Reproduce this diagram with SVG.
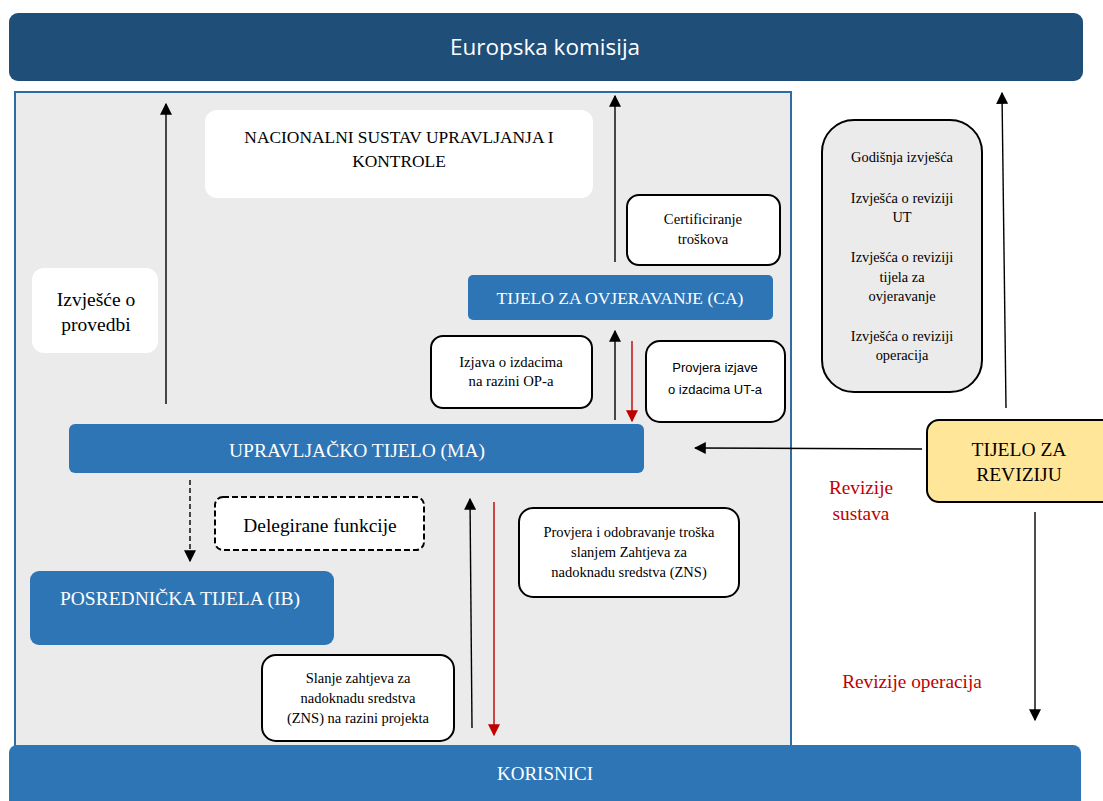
<svg xmlns="http://www.w3.org/2000/svg" width="1103" height="801" viewBox="0 0 1103 801">
<style>
.blue{fill:#2E75B6}
.wbox{fill:#fff;stroke:#000;stroke-width:2}
text.s{font-family:'Liberation Serif','DejaVu Serif',serif;fill:#000;text-anchor:middle}
text.w{fill:#fff}
text.r{fill:#C00000}
.ln{stroke:#000;stroke-width:1.4;fill:none}
.lr{stroke:#C00000;stroke-width:1.4;fill:none}
</style>
<defs>
<marker id="ab" viewBox="0 0 10 10" refX="9" refY="5" markerWidth="12" markerHeight="12" markerUnits="userSpaceOnUse" orient="auto"><path d="M0,0 L10,5 L0,10 z" fill="#000"/></marker>
<marker id="ar" viewBox="0 0 10 10" refX="9" refY="5" markerWidth="12" markerHeight="12" markerUnits="userSpaceOnUse" orient="auto"><path d="M0,0 L10,5 L0,10 z" fill="#C00000"/></marker>
</defs>
<rect width="1103" height="801" fill="#fff"/>
<g id="ek"><rect x="9" y="13" width="1074" height="68" rx="9" fill="#1F4E79"/><text x="545" y="55" font-family="'Open Sans','DejaVu Sans',sans-serif" font-size="22.5" fill="#fff" text-anchor="middle">Europska komisija</text></g>
<g id="panel"><rect x="15" y="92" width="776" height="660" fill="#EBEBEB" stroke="#2E6DA4" stroke-width="2"/></g>
<g id="nacionalni"><rect x="205" y="110" width="388" height="88" rx="12" fill="#fff"/><text class="s" font-size="17.4" x="399" y="143">NACIONALNI SUSTAV UPRAVLJANJA I</text><text class="s" font-size="17.4" x="399" y="167">KONTROLE</text></g>
<g id="provedbi"><rect x="32" y="268" width="126" height="85" rx="12" fill="#fff"/><text class="s" font-size="19.5" x="96" y="306">Izvješće o</text><text class="s" font-size="19.5" x="96" y="331">provedbi</text></g>
<g id="cert"><rect class="wbox" x="627" y="195" width="153" height="70" rx="12"/><text class="s" font-size="14.7" x="703" y="224">Certificiranje</text><text class="s" font-size="14.7" x="703" y="244">troškova</text></g>
<g id="ca"><rect class="blue" x="468" y="275" width="305" height="45" rx="5"/><text class="s w" font-size="17.5" x="620" y="304">TIJELO ZA OVJERAVANJE (CA)</text></g>
<g id="izjava"><rect class="wbox" x="431" y="336" width="161" height="72" rx="12"/><text class="s" font-size="14.7" x="511" y="367">Izjava o izdacima</text><text class="s" font-size="14.7" x="511" y="386">na razini OP-a</text></g>
<g id="provjera"><rect class="wbox" x="646" y="341" width="139" height="81" rx="14"/><text font-family="'Liberation Sans',Arial,sans-serif" font-size="13" text-anchor="middle" x="715" y="372">Provjera izjave</text><text font-family="'Liberation Sans',Arial,sans-serif" font-size="13" text-anchor="middle" x="715" y="394">o izdacima UT-a</text></g>
<g id="ma"><rect class="blue" x="69" y="424" width="575" height="49" rx="6"/><text class="s w" font-size="19.5" x="357" y="457">UPRAVLJAČKO TIJELO (MA)</text></g>
<g id="deleg"><rect x="215" y="497" width="209" height="53" rx="8" fill="#fff" stroke="#000" stroke-width="2" stroke-dasharray="6,3"/><text class="s" font-size="19.4" x="320" y="532">Delegirane funkcije</text></g>
<g id="ib"><rect class="blue" x="30" y="571" width="304" height="74" rx="9"/><text class="s w" font-size="19.5" x="180" y="605">POSREDNIČKA TIJELA (IB)</text></g>
<g id="odobr"><rect class="wbox" x="519" y="508" width="220" height="89" rx="14"/><text class="s" font-size="14.5" x="629" y="537">Provjera i odobravanje troška</text><text class="s" font-size="14.5" x="629" y="557">slanjem Zahtjeva za</text><text class="s" font-size="14.5" x="629" y="577">nadoknadu sredstva (ZNS)</text></g>
<g id="slanje"><rect class="wbox" x="262" y="655" width="192" height="86" rx="14"/><text class="s" font-size="14.5" x="358" y="683">Slanje zahtjeva za</text><text class="s" font-size="14.5" x="358" y="703">nadoknadu sredstva</text><text class="s" font-size="14.5" x="358" y="723">(ZNS) na razini projekta</text></g>
<g id="izvjesca"><rect x="822" y="120" width="160" height="272" rx="32" fill="#EBEBEB" stroke="#000" stroke-width="2"/><text class="s" font-size="14.4" x="902" y="162">Godišnja izvješća</text><text class="s" font-size="14.4" x="902" y="203">Izvješća o reviziji</text><text class="s" font-size="14.4" x="902" y="222">UT</text><text class="s" font-size="14.4" x="902" y="262">Izvješća o reviziji</text><text class="s" font-size="14.4" x="902" y="282">tijela za</text><text class="s" font-size="14.4" x="902" y="301">ovjeravanje</text><text class="s" font-size="14.4" x="902" y="341">Izvješća o reviziji</text><text class="s" font-size="14.4" x="902" y="360">operacija</text></g>
<g id="revizija"><rect x="927" y="420" width="190" height="82" rx="12" fill="#FFE699" stroke="#000" stroke-width="2"/><text class="s" font-size="19.5" x="1019" y="456">TIJELO ZA</text><text class="s" font-size="19.5" x="1019" y="481">REVIZIJU</text></g>
<g id="korisnici"><rect class="blue" x="9" y="745" width="1072" height="66" rx="8"/><text class="s w" font-size="19" x="545" y="780">KORISNICI</text></g>
<g id="labels"><text class="s r" font-size="19.3" x="861" y="494">Revizije</text><text class="s r" font-size="19.3" x="861" y="520">sustava</text><text class="s r" font-size="19.3" x="912" y="688">Revizije operacija</text></g>
<g id="connectors">
<line class="ln" x1="166" y1="404" x2="166" y2="104" marker-end="url(#ab)"/>
<line class="ln" x1="615" y1="262" x2="615" y2="96" marker-end="url(#ab)"/>
<line class="ln" x1="615" y1="420" x2="615" y2="331" marker-end="url(#ab)"/>
<line class="lr" x1="632" y1="341" x2="632" y2="421" marker-end="url(#ar)"/>
<line class="ln" x1="922" y1="449" x2="695" y2="448" marker-end="url(#ab)"/>
<line class="ln" x1="1006" y1="408" x2="1002" y2="93" marker-end="url(#ab)"/>
<line class="ln" x1="1035" y1="512" x2="1035" y2="720" marker-end="url(#ab)"/>
<line class="ln" x1="190" y1="480" x2="190" y2="561" stroke-dasharray="5,3" marker-end="url(#ab)"/>
<line class="ln" x1="472" y1="728" x2="470" y2="499" marker-end="url(#ab)"/>
<line class="lr" x1="494" y1="502" x2="494" y2="735" marker-end="url(#ar)"/>
</g>
</svg>
